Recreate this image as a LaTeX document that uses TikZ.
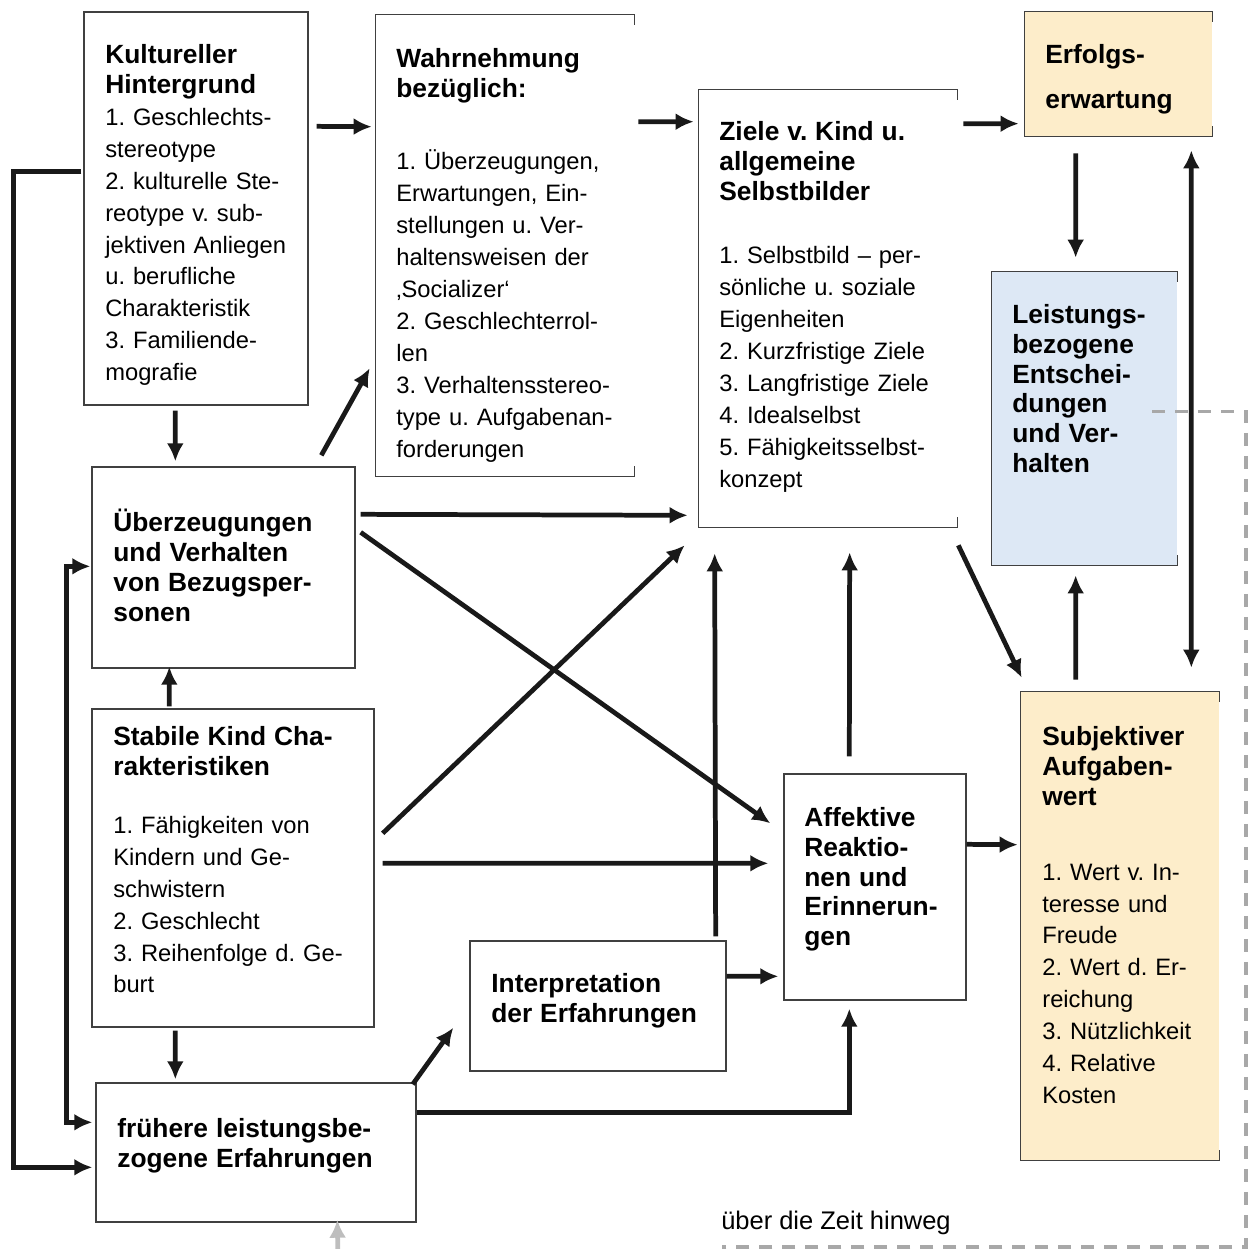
\documentclass[tikz,border=0pt]{standalone}
\usepackage{fontspec}
\setmainfont{Liberation Sans}
\usetikzlibrary{arrows.meta,calc}
\frenchspacing

\definecolor{cream}{RGB}{253,237,202}
\definecolor{paleblue}{RGB}{221,232,245}
\definecolor{dashgray}{RGB}{168,168,168}
\definecolor{pastgray}{RGB}{190,190,190}

% bold heading lines of a box
\newcommand{\hd}[1]{{\fontsize{15}{17}\selectfont\bfseries\strut#1\par}}

\tikzset{
  box/.style={draw=black!75,line width=0.8pt,inner sep=0pt},
  openbox/.style={draw=none,inner sep=0pt},
  frame/.style={draw=black!75,line width=0.8pt,-},
  txt/.style={anchor=north west,inner sep=0pt,text width=6cm,align=left,
    font=\fontsize{13.5}{18.2}\selectfont},
  arr/.style={->,line width=2.7pt,black!90},
  dashline/.style={-,dashgray,line width=2pt,dash pattern=on 0.26cm off 0.2cm},
}

\begin{document}
\begin{tikzpicture}[x=0.02cm,y=-0.02cm,>={Latex[length=3.6mm,width=3.4mm]}]
\useasboundingbox (0,0) rectangle (1249,1249);

% boxes
\node[box,minimum width=4.48cm,minimum height=7.86cm] (kult) at (196,208.5) {};
\node[openbox,minimum width=5.16cm,minimum height=9.22cm] (wahr) at (505,245.5) {};
\node[openbox,minimum width=5.16cm,minimum height=8.74cm] (ziele) at (828,308.5) {};
\node[openbox,fill=cream,minimum width=3.74cm,minimum height=2.48cm] (erfolg) at (1118.5,74) {};
\node[openbox,fill=paleblue,minimum width=3.70cm,minimum height=5.86cm] (leist) at (1084.5,418.5) {};
\node[box,minimum width=5.26cm,minimum height=4.02cm] (bezug) at (223.5,567.5) {};
\node[box,minimum width=5.64cm,minimum height=6.36cm] (stabil) at (233,868) {};
\node[box,minimum width=5.12cm,minimum height=2.6cm] (interp) at (598,1006) {};
\node[box,minimum width=3.64cm,minimum height=4.52cm] (affekt) at (875,887) {};
\node[openbox,fill=cream,minimum width=3.96cm,minimum height=9.36cm] (subj) at (1120,926) {};
\node[box,minimum width=6.4cm,minimum height=2.78cm] (frueh) at (256,1152.5) {};

% frames with open right side
\foreach \n in {wahr,ziele,erfolg,leist,subj}
  \draw[frame] ([yshift=-0.2cm]\n.north east) -- (\n.north east) -- (\n.north west)
    -- (\n.south west) -- (\n.south east) -- ([yshift=0.2cm]\n.south east);

% texts
\node[txt] (kulttxt) at (105,42) {\hd{Kultureller\\Hintergrund}1. Geschlechts-\\stereotype\\2. kulturelle Ste-\\reotype v. sub-\\jektiven Anliegen\\u. berufliche\\Charakteristik\\3. Familiende-\\mografie};
\node[txt] (wahrtxt) at (396,46) {\hd{Wahrnehmung\\bezüglich:}\vspace{23pt}1. Überzeugungen,\\Erwartungen, Ein-\\stellungen u. Ver-\\haltensweisen der\\‚Socializer‘\\2. Geschlechterrol-\\len\\3. Verhaltensstereo-\\type u. Aufgabenan-\\forderungen};
\node[txt] (zieletxt) at (719,119) {\hd{Ziele v. Kind u.\\allgemeine\\Selbstbilder}\vspace{18pt}1. Selbstbild – per-\\sönliche u. soziale\\Eigenheiten\\2. Kurzfristige Ziele\\3. Langfristige Ziele\\4. Idealselbst\\5. Fähigkeitsselbst-\\konzept};
\node[txt] (erfolgtxt) at (1045,42) {\hd{Erfolgs-\\[8.5pt]erwartung}};
\node[txt] (leisttxt) at (1012,302) {\hd{Leistungs-\\bezogene\\Entschei-\\dungen\\und Ver-\\halten}};
\node[txt] (bezugtxt) at (113,509) {\hd{Überzeugungen\\und Verhalten\\von Bezugsper-\\sonen}};
\node[txt] (stabiltxt) at (113,724) {\hd{Stabile Kind Cha-\\rakteristiken}\vspace{14.8pt}1. Fähigkeiten von\\Kindern und Ge-\\schwistern\\2. Geschlecht\\3. Reihenfolge d. Ge-\\burt};
\node[txt] (interptxt) at (491,971) {\hd{Interpretation\\der Erfahrungen}};
\node[txt] (affekttxt) at (804,805) {\hd{Affektive\\Reaktio-\\nen und\\Erinnerun-\\gen}};
\node[txt] (subjtxt) at (1042,724) {\hd{Subjektiver\\Aufgaben-\\wert}\vspace{24.5pt}1. Wert v. In-\\teresse und\\Freude\\2. Wert d. Er-\\reichung\\3. Nützlichkeit\\4. Relative\\Kosten};
\node[txt] (fruehtxt) at (117,1116) {\hd{frühere leistungsbe-\\zogene Erfahrungen}};
\node[anchor=base,inner sep=0pt,font=\fontsize{14.5}{17}\selectfont] (zeit) at (836,1229) {über die Zeit hinweg};

% feedback over time
\coordinate (loopc) at (1246,1247);
\coordinate (past) at (338,1262);
\draw[dashline] ($(leist.north east)+(-25,140)$) -| (loopc) -- ++(-524,0);
\draw[->,pastgray,line width=2.7pt] (past) -- ($(frueh.south west)+(242,-3)$);

% connectors
\draw[arr] ($(kult.north east)+(8,115)$) -- ($(wahr.north west)+(-4,112)$);
\draw[arr] ($(wahr.north east)+(4,107)$) -- ($(ziele.north west)+(-5,32)$);
\draw[arr] ($(ziele.north east)+(6,34)$) -- ($(erfolg.north west)+(-6,112)$);
\draw[arr] ($(erfolg.south west)+(51,17)$) -- ($(leist.north west)+(84,-14)$);
\draw[arr,<->] ($(erfolg.south east)+(-21,14)$) -- ($(subj.north east)+(-28,-24)$);
\draw[arr] ($(subj.north west)+(55,-12)$) -- ($(leist.south west)+(84,10)$);
\draw[arr] ($(ziele.south east)+(1,18)$) -- ($(subj.north west)+(1,-14)$);
\draw[arr] ($(kult.south west)+(92,5)$) -- ($(bezug.north west)+(84,-5)$);
\draw[arr] ($(bezug.north west)+(230,-11)$) -- ($(wahr.south west)+(-6,-108)$);
\draw[arr] ($(bezug.north east)+(5,48)$) -- ($(ziele.south west)+(-11,-12)$);
\draw[arr] ($(bezug.north east)+(5,66)$) -- ($(affekt.north west)+(-13,50)$);
\draw[arr] ($(stabil.north west)+(78,-2)$) -- ($(bezug.south west)+(78,-2)$);
\draw[arr] ($(stabil.north east)+(8,125)$) -- ($(ziele.south west)+(-14,18)$);
\draw[arr] ($(stabil.north east)+(8,155)$) -- ($(affekt.north west)+(-15,90)$);
\draw[arr] ($(interp.north east)+(-11,-4)$) -- ($(ziele.south west)+(16,26)$);
\draw[arr] ($(affekt.north west)+(66,-17)$) -- ($(ziele.south west)+(151,25)$);
\draw[arr] ($(interp.north east)+(0,36)$) -- ($(affekt.north west)+(-5,203)$);
\draw[arr] ($(affekt.north east)+(0,71)$) -- ($(subj.north west)+(-3,153)$);
\draw[arr] ($(stabil.south west)+(84,3)$) -- ($(frueh.north west)+(80,-3)$);
\draw[arr] ($(frueh.north east)+(-4,2)$) -- ($(interp.south west)+(-16,-44)$);
\draw[arr] ($(frueh.north east)+(0,30)$) -| ($(affekt.south west)+(66,8)$);
\draw[arr] ($(kult.north west)+(-2,160)$) -- ++(-68,0) |- ($(frueh.north west)+(-3,85)$);
\draw[arr,<->] ($(bezug.north west)+(-1,100)$) -- ++(-24,0) |- ($(frueh.north west)+(-3,40)$);

\end{tikzpicture}
\end{document}
